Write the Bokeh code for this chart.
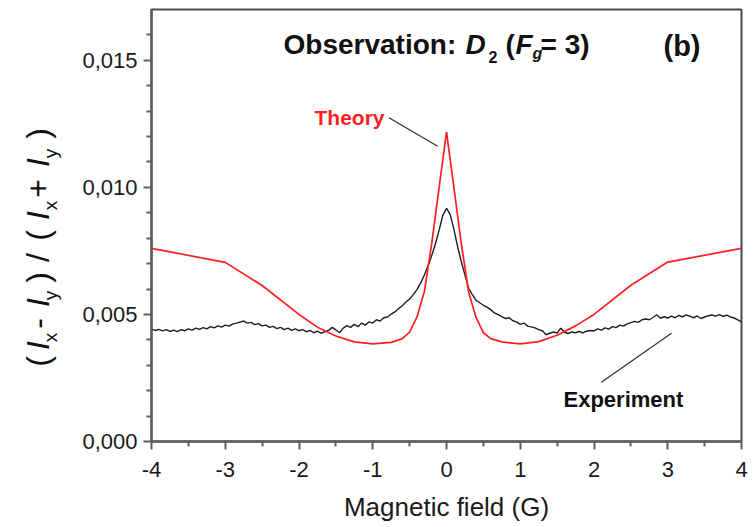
import math
from bokeh.plotting import figure
from bokeh.models import Range1d, FixedTicker, Label
from bokeh.layouts import row
from bokeh.embed import file_html
from bokeh.resources import INLINE

# ---------------- data ----------------
theory_field = [-4, -3, -2.5, -2, -1.75, -1.5, -1.25, -1, -0.75, -0.6, -0.5, -0.4, -0.3, -0.2, -0.1, 0,
                0.1, 0.2, 0.3, 0.4, 0.5, 0.6, 0.75, 1, 1.25, 1.5, 1.75, 2, 2.5, 3, 4]
theory = [0.00760, 0.00705, 0.00614, 0.00500, 0.00450, 0.00415, 0.00392, 0.00384, 0.00390, 0.00405,
          0.00430, 0.00490, 0.00590, 0.00780, 0.01000, 0.01218,
          0.01000, 0.00780, 0.00588, 0.00488, 0.00428, 0.00405, 0.00392, 0.00384, 0.00393, 0.00418,
          0.00455, 0.00500, 0.00615, 0.00706, 0.00760]

exp_field = [-4.00, -3.95, -3.90, -3.85, -3.80, -3.75, -3.70, -3.65, -3.60, -3.55,
             -3.50, -3.45, -3.40, -3.35, -3.30, -3.25, -3.20, -3.15, -3.10, -3.05,
             -3.00, -2.95, -2.90, -2.85, -2.80, -2.75, -2.70, -2.65, -2.60, -2.55,
             -2.50, -2.45, -2.40, -2.35, -2.30, -2.25, -2.20, -2.15, -2.10, -2.05,
             -2.00, -1.95, -1.90, -1.85, -1.80, -1.75, -1.70, -1.65, -1.60, -1.55,
             -1.50, -1.45, -1.40, -1.35, -1.30, -1.25, -1.20, -1.15, -1.10, -1.05,
             -1.00, -0.95, -0.90, -0.85, -0.80, -0.75, -0.70, -0.65, -0.60, -0.55,
             -0.50, -0.45, -0.40, -0.35, -0.30, -0.25, -0.20, -0.15, -0.10, -0.05,
             0.00, 0.05, 0.10, 0.15, 0.20, 0.25, 0.30, 0.35, 0.40, 0.45,
             0.50, 0.55, 0.60, 0.65, 0.70, 0.75, 0.80, 0.85, 0.90, 0.95,
             1.00, 1.05, 1.10, 1.15, 1.20, 1.25, 1.30, 1.35, 1.40, 1.45,
             1.50, 1.55, 1.60, 1.65, 1.70, 1.75, 1.80, 1.85, 1.90, 1.95,
             2.00, 2.05, 2.10, 2.15, 2.20, 2.25, 2.30, 2.35, 2.40, 2.45,
             2.50, 2.55, 2.60, 2.65, 2.70, 2.75, 2.80, 2.85, 2.90, 2.95,
             3.00, 3.05, 3.10, 3.15, 3.20, 3.25, 3.30, 3.35, 3.40, 3.45,
             3.50, 3.55, 3.60, 3.65, 3.70, 3.75, 3.80, 3.85, 3.90, 3.95, 4.00]
experiment = [0.00442, 0.00437, 0.00441, 0.00435, 0.00440, 0.00433, 0.00438, 0.00432, 0.00440, 0.00436,
              0.00443, 0.00438, 0.00446, 0.00441, 0.00448, 0.00443, 0.00452, 0.00447, 0.00455, 0.00450,
              0.00458, 0.00454, 0.00462, 0.00466, 0.00470, 0.00474, 0.00466, 0.00469, 0.00460, 0.00464,
              0.00455, 0.00458, 0.00449, 0.00453, 0.00444, 0.00449, 0.00440, 0.00446, 0.00437, 0.00443,
              0.00436, 0.00440, 0.00432, 0.00437, 0.00428, 0.00434, 0.00426, 0.00432, 0.00437, 0.00449,
              0.00439, 0.00428, 0.00446, 0.00456, 0.00449, 0.00461, 0.00452, 0.00466, 0.00458, 0.00471,
              0.00466, 0.00479, 0.00474, 0.00487, 0.00490, 0.00501, 0.00510, 0.00523, 0.00534, 0.00549,
              0.00561, 0.00578, 0.00598, 0.00624, 0.00655, 0.00692, 0.00732, 0.00778, 0.00832, 0.00890,
              0.00918, 0.00893, 0.00836, 0.00768, 0.00708, 0.00655, 0.00603, 0.00578, 0.00556, 0.00546,
              0.00536, 0.00529, 0.00519, 0.00506, 0.00499, 0.00491, 0.00484, 0.00487, 0.00475, 0.00471,
              0.00461, 0.00466, 0.00454, 0.00451, 0.00447, 0.00440, 0.00436, 0.00420, 0.00426, 0.00431,
              0.00427, 0.00446, 0.00430, 0.00425, 0.00431, 0.00428, 0.00433, 0.00427, 0.00434, 0.00437,
              0.00435, 0.00443, 0.00438, 0.00447, 0.00442, 0.00452, 0.00448, 0.00458, 0.00454, 0.00463,
              0.00468, 0.00473, 0.00469, 0.00479, 0.00482, 0.00479, 0.00488, 0.00499, 0.00485, 0.00491,
              0.00486, 0.00493, 0.00487, 0.00496, 0.00490, 0.00498, 0.00493, 0.00487, 0.00494, 0.00484,
              0.00490, 0.00495, 0.00498, 0.00493, 0.00499, 0.00492, 0.00497, 0.00490, 0.00486, 0.00479, 0.00471]

x_ticks = [-4, -3, -2, -1, 0, 1, 2, 3, 4]
x_tick_labels = ["-4", "-3", "-2", "-1", "0", "1", "2", "3", "4"]
x_minor = [-3.5, -2.5, -1.5, -0.5, 0.5, 1.5, 2.5, 3.5]
y_ticks = [0.0, 0.005, 0.010, 0.015]
y_tick_labels = ["0,000", "0,005", "0,010", "0,015"]
y_minor = [0.001, 0.002, 0.003, 0.004, 0.006, 0.007, 0.008, 0.009,
           0.011, 0.012, 0.013, 0.014, 0.016]

# leader lines of the annotations (data coordinates)
theory_leader = dict(x0=[-0.78], y0=[0.01274], x1=[-0.12], y1=[0.01162])
exp_leader = dict(x0=[2.10], y0=[0.00233], x1=[3.05], y1=[0.00426])

FONT = "Liberation Sans"
W, H = 754, 527
LEFT_W = 75
# frame origin in page pixels: left=151, bottom=441
FX, FY = 151, 441

# ---------------- left strip holding the rotated y-axis title ----------------
side = figure(width=LEFT_W, height=H, x_range=Range1d(0, LEFT_W), y_range=Range1d(0, H),
              output_backend="svg", toolbar_location=None,
              x_axis_type=None, y_axis_type=None, min_border=0)
side.title.visible = False
side.xgrid.visible = False
side.ygrid.visible = False
side.outline_line_color = None

# ---------------- main figure ----------------
p = figure(width=W - LEFT_W, height=H, x_range=Range1d(-4, 4), y_range=Range1d(0, 0.017),
           output_backend="svg", toolbar_location=None,
           min_border_left=FX - LEFT_W, min_border_right=13, min_border_top=9, min_border_bottom=86)
p.title.visible = False
p.xgrid.visible = False
p.ygrid.visible = False
p.background_fill_color = "white"
p.outline_line_color = "#4a4a4a"
p.outline_line_width = 2

p.xaxis.ticker = FixedTicker(ticks=x_ticks, minor_ticks=x_minor)
p.yaxis.ticker = FixedTicker(ticks=y_ticks, minor_ticks=y_minor)
p.xaxis.major_label_overrides = {t: s for t, s in zip(x_ticks, x_tick_labels)}
p.yaxis.major_label_overrides = {t: s for t, s in zip(y_ticks, y_tick_labels)}

for ax in (p.xaxis[0], p.yaxis[0]):
    ax.axis_line_color = "#5f5f5f"
    ax.axis_line_width = 2.5
    ax.major_tick_line_color = "#5f5f5f"
    ax.major_tick_line_width = 2
    ax.major_tick_out = 8
    ax.major_tick_in = 0
    ax.minor_tick_line_color = "#5f5f5f"
    ax.minor_tick_line_width = 2
    ax.minor_tick_out = 5
    ax.minor_tick_in = 0
    ax.major_label_text_font = FONT
    ax.major_label_text_font_size = "22px"
    ax.major_label_text_color = "#1a1a1a"

p.xaxis.major_label_standoff = 12
p.yaxis.major_label_standoff = 6
p.xaxis.axis_label = "Magnetic field (G)"
p.xaxis.axis_label_text_font = FONT
p.xaxis.axis_label_text_font_size = "26px"
p.xaxis.axis_label_text_font_style = "normal"
p.xaxis.axis_label_text_color = "#1a1a1a"
p.xaxis.axis_label_standoff = 12

# curves
p.line(exp_field, experiment, line_color="#1e1e1e", line_width=1.4)
p.line(theory_field, theory, line_color="#ff1f1f", line_width=1.7)

# leader lines
p.segment(line_color="#333333", line_width=1.3, **theory_leader)
p.segment(line_color="#333333", line_width=1.3, **exp_leader)


def lab(text, px, py, size, style="bold", color="#111111", align="left",
        baseline="alphabetic"):
    p.add_layout(Label(x=px - FX, y=FY - py, x_units="screen", y_units="screen",
                       text=text, text_font=FONT, text_font_size=f"{size}px",
                       text_font_style=style, text_color=color, text_align=align,
                       text_baseline=baseline))


# title: Observation: D2 (Fg= 3)
lab("Observation:", 283, 44, 28)
lab("D", 465, 44, 28, style="bold italic")
lab("2", 488, 56, 16)
lab("(", 505, 44, 28)
lab("F", 515, 44, 28, style="bold italic")
lab("g", 532, 53, 16, style="bold italic")
lab("= 3)", 540, 44, 28)
lab("(b)", 663, 45, 29)

# curve annotations
lab("Theory", 384, 117, 21, color="#ff1f1f", align="right")
lab("Experiment", 563, 399, 22)

# rotated y-axis title: ( Ix - Iy ) / ( Ix + Iy )
R = math.pi / 2


def side_lab(text, px, py, size, style):
    # the side strip's frame is aligned with the main frame (bottom at FY)
    side.add_layout(Label(x=px, y=FY - py, x_units="screen", y_units="screen",
                          text=text, text_font=FONT, text_font_size=f"{size}px",
                          text_font_style=style, text_color="#111111",
                          text_align="center", text_baseline="alphabetic", angle=R))


main_x, sub_x = 37, 50
for txt, py, st in [("(", 361, "normal"), ("I", 345, "italic"), ("-", 323, "normal"),
                    ("I", 302, "italic"), (")", 277, "normal"), ("/", 257, "normal"),
                    ("(", 235, "normal"), ("I", 215, "italic"), ("+", 188, "normal"),
                    ("I", 162, "italic"), (")", 133, "normal")]:
    side_lab(txt, main_x, py, 32, st)
for txt, py in [("x", 337), ("y", 295), ("x", 205), ("y", 153)]:
    side_lab(txt, sub_x, py, 19, "normal")

layout = row(side, p)
open("out.html", "w").write(file_html(layout, INLINE))
